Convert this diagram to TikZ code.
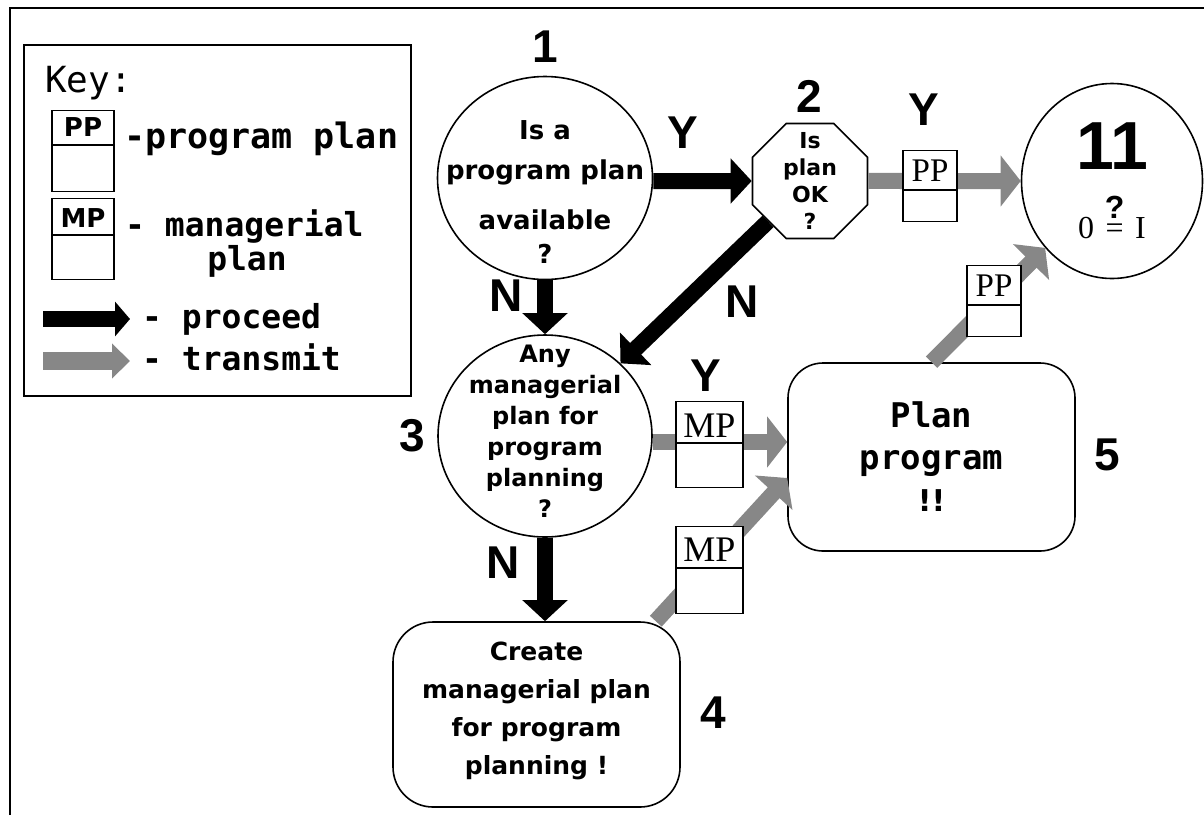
\documentclass[tikz,border=0pt]{standalone}
\usepackage{fontspec}
\setmainfont{DejaVu Sans}
\newfontfamily\stepfont{DejaVu Sans}
\newfontfamily\keyfont{DejaVu Sans Mono}
\newfontfamily\docfont{Liberation Serif}
\newfontfamily\numfont{Liberation Sans}
\usetikzlibrary{arrows.meta,shapes.geometric,shapes.multipart}

\tikzset{
  frameline/.style={line width=2pt},
  question/.style={ellipse, draw, line width=1.6pt, fill=white, text=black,
    inner xsep=-40pt, inner ysep=-30pt, align=center},
  process/.style={rectangle, draw, line width=1.6pt, fill=white, align=center, inner sep=0pt},
  docbox/.style={rectangle split, rectangle split parts=2, draw=black, fill=white,
    line width=1.6pt, inner sep=0pt, text=black},
  numlabel/.style={inner sep=0pt, font=\numfont\bfseries\fontsize{46}{46}\selectfont},
  branch/.style={inner sep=0pt, font=\numfont\bfseries\fontsize{46}{46}\selectfont},
  keytext/.style={inner sep=0pt, font=\keyfont\bfseries\fontsize{33}{33}\selectfont},
  proceed/.style={draw=black, line width=16pt, -{Triangle[width=44pt,length=21pt]}},
  transmit/.style={draw=black!47, line width=16pt, -{Triangle[width=50pt,length=20pt]}},
}

\begin{document}
\begin{tikzpicture}[x=1pt,y=-1pt]
\useasboundingbox (0,0) rectangle (1204,815);

% page frame
\draw[frameline] (10,815) -- (10,8) -- (1204,8);

% ---------- key ----------
\node[draw, line width=2pt, minimum width=387pt, minimum height=351pt, inner sep=0pt] (key) at (217.5,220.5) {};
\node[inner sep=0pt, anchor=base west, font=\keyfont\fontsize{36}{36}\selectfont] (keytitle) at (45,92) {Key:};
\node[docbox] (keypp) at (83,151)
  {\stepfont\bfseries\fontsize{26}{26}\selectfont\rule[-8pt]{0pt}{33pt}PP\nodepart{two}\makebox[62pt]{\rule{0pt}{45pt}}};
\node[docbox] (keymp) at (83,239)
  {\stepfont\bfseries\fontsize{26}{26}\selectfont\rule[-7pt]{0pt}{35pt}MP\nodepart{two}\makebox[62pt]{\rule{0pt}{43pt}}};
\node[keytext, anchor=base west, font=\keyfont\bfseries\fontsize{35}{35}\selectfont] (keypptext) at (124,148) {-program plan};
\node[keytext, anchor=base west] (keymptext) at (125,236) {- managerial};
\node[keytext, anchor=base] (keymptext2) at (247,270) {plan};
\coordinate (kp0) at (43,319);
\coordinate (kp1) at (130,319);
\draw[draw=black, line width=16pt, -{Triangle[width=34pt,length=15pt]}] (kp0) -- (kp1);
\node[keytext, anchor=base west] (keyproceed) at (142,328) {- proceed};
\coordinate (kt0) at (43,361);
\coordinate (kt1) at (130,361);
\draw[draw=black!47, line width=18pt, -{Triangle[width=34pt,length=18pt]}] (kt0) -- (kt1);
\node[keytext, anchor=base west] (keytransmit) at (142,370) {- transmit};

% ---------- steps ----------
\node[question, minimum width=215pt, minimum height=203pt,
      font=\stepfont\bfseries\fontsize{26}{40}\selectfont] (c1) at (545,178)
  {\rule{0pt}{46pt}Is a\\program plan\\[10pt]available\\[-6pt]?};

\node[regular polygon, regular polygon sides=8, draw, line width=1.6pt, fill=white,
      minimum size=124.5pt, inner sep=-20pt, align=center,
      font=\stepfont\bfseries\fontsize{22}{27}\selectfont] (oct) at (810,181)
  {Is\\plan\\OK\\?};

\node[question, minimum width=181pt, minimum height=195pt, inner xsep=-20pt, inner ysep=-25pt,
      font=\fontsize{20}{20}\selectfont] (c11) at (1112,181)
  {{\numfont\bfseries\fontsize{68}{68}\selectfont 11}\\[24pt]%
   {\docfont\fontsize{32}{32}\selectfont 0\,\,$\stackrel{\raisebox{4pt}{\numfont\bfseries\fontsize{32}{32}\selectfont ?}}{\mbox{=}}$\,\,I}};

\node[question, minimum width=214pt, minimum height=202pt,
      font=\stepfont\bfseries\fontsize{24}{31}\selectfont] (c3) at (545,436)
  {Any\\managerial\\plan for\\program\\planning\\?\rule[-9pt]{0pt}{9pt}};

\node[process, minimum width=287pt, minimum height=185pt, rounded corners=40pt,
      font=\stepfont\bfseries\fontsize{25}{38}\selectfont] (b4) at (536.5,714.5)
  {Create\\managerial plan\\for program\\planning !\rule[-12pt]{0pt}{12pt}};

\node[process, minimum width=287pt, minimum height=188pt, rounded corners=35pt,
      font=\keyfont\bfseries\fontsize{34}{42}\selectfont] (b5) at (931.5,457)
  {Plan\\program\\{\stepfont\bfseries\fontsize{30}{30}\selectfont !!}};

% step numbers
\node[numlabel] (n1) at (545,47) {1};
\node[numlabel] (n2) at (809,96) {2};
\node[numlabel] (n3) at (412,436) {3};
\node[numlabel] (n4) at (713,713) {4};
\node[numlabel] (n5) at (1107,455) {5};

% ---------- proceed arrows ----------
\draw[proceed] (c1.east |- oct) -- (oct);
\draw[proceed] (c1) -- (c3);
\draw[proceed] (oct) -- (c3);
\draw[proceed] (c3.south) -- (c3.south |- b4.north);

% ---------- transmit arrows ----------
\coordinate (s35) at ([yshift=-6pt]c3.east);
\coordinate (s45) at ([xshift=-25pt]b4.north east);
\coordinate (t45) at ([yshift=-21pt]b5.west);
\draw[transmit] (oct) -- (c11);
\draw[transmit] (s35) -- (s35 -| b5.west);
\draw[transmit] (s45) -- (t45);
\draw[transmit] (b5.north) -- (c11.225);

% plans carried along the transmit arrows
\node[docbox] (pp1) at (930,186)
  {\docfont\fontsize{33}{33}\selectfont\rule[-8pt]{0pt}{38pt}PP\nodepart{two}\makebox[54pt]{\rule{0pt}{30pt}}};
\node[docbox] (pp2) at (994,301)
  {\docfont\fontsize{33}{33}\selectfont\rule[-8pt]{0pt}{38pt}PP\nodepart{two}\makebox[54pt]{\rule{0pt}{30pt}}};
\node[docbox] (mp1) at (709.5,444.5)
  {\docfont\fontsize{36}{36}\selectfont\rule[-5pt]{0pt}{40pt}MP\nodepart{two}\makebox[67pt]{\rule{0pt}{43pt}}};
\node[docbox] (mp2) at (709.5,570)
  {\docfont\fontsize{36}{36}\selectfont\rule[-6pt]{0pt}{40pt}MP\nodepart{two}\makebox[67pt]{\rule{0pt}{44pt}}};

% branch labels
\node[branch] (y12) at (683,133) {Y};
\node[branch] (y211) at (924,110) {Y};
\node[branch] (y35) at (706,376) {Y};
\node[branch] (n13) at (506,296) {N};
\node[branch] (n23) at (742,302) {N};
\node[branch] (n34) at (503,563) {N};
\end{tikzpicture}
\end{document}
